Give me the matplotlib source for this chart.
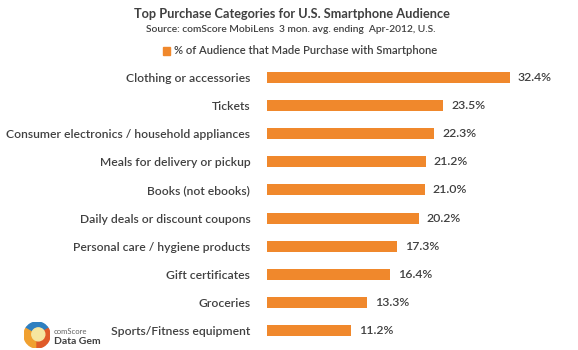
import matplotlib
matplotlib.use("Agg")
import matplotlib.pyplot as plt
from matplotlib.patches import Wedge, Circle

categories = ["Clothing or accessories", "Tickets",
              "Consumer electronics / household appliances",
              "Meals for delivery or pickup", "Books (not ebooks)",
              "Daily deals or discount coupons",
              "Personal care / hygiene products", "Gift certificates",
              "Groceries", "Sports/Fitness equipment"]
values = [32.4, 23.5, 22.3, 21.2, 21.0, 20.2, 17.3, 16.4, 13.3, 11.2]
series_name = "% of Audience that Made Purchase with Smartphone"
title = "Top Purchase Categories for U.S. Smartphone Audience"
subtitle = "Source: comScore MobiLens  3 mon. avg. ending  Apr-2012, U.S."

ORANGE = "#F0882C"
TEXT = "#404040"
FONT = "Lato"

W, H = 578, 350
fig = plt.figure(figsize=(W / 100, H / 100), dpi=100)
fig.patch.set_facecolor("white")

ax_left, ax_right = 267, 567
ax_top, ax_bottom = 62.9, 345.1
ax = fig.add_axes([ax_left / W, 1 - ax_bottom / H,
                   (ax_right - ax_left) / W, (ax_bottom - ax_top) / H])
ypos = list(range(len(categories)))
ax.barh(ypos, values, height=0.39, color=ORANGE)
ax.set_xlim(0, 40)
ax.set_ylim(len(categories) - 0.5, -0.5)
ax.set_yticks(ypos)
ax.set_yticklabels(categories, fontsize=8.7, color=TEXT, family=FONT,
                   fontweight="semibold")
ax.tick_params(axis="y", length=0, pad=12)
ax.set_xticks([])
for s in ax.spines.values():
    s.set_visible(False)
for y, v in zip(ypos, values):
    ax.text(v + 1.05, y, f"{v:.1f}%", va="center", ha="left", fontsize=8.8,
            color=TEXT, family=FONT, fontweight="semibold")

fig.text(292 / W, 1 - 14 / H, title, ha="center", va="center",
         fontsize=9.2, fontweight="bold", color=TEXT, family=FONT)
fig.text(291 / W, 1 - 29 / H, subtitle, ha="center", va="center",
         fontsize=7.4, fontweight="semibold", color=TEXT, family=FONT)
# legend
fig.patches.append(plt.Rectangle((163 / W, 1 - 55 / H), 7 / W, 8 / H,
                                 transform=fig.transFigure, color=ORANGE))
fig.text(174 / W, 1 - 51 / H, series_name, ha="left", va="center",
         fontsize=8.1, fontweight="semibold", color=TEXT, family=FONT)

# logo
lax = fig.add_axes([24 / W, 1 - 348 / H, 26 / W, 26 / H])
lax.set_xlim(-1, 1)
lax.set_ylim(-1, 1)
lax.set_aspect("equal")
lax.axis("off")
for th1, th2, c in [(30, 150, "#2E7FC0"), (150, 270, "#F0A030"),
                    (270, 390, "#E05A28")]:
    lax.add_patch(Wedge((0, 0), 1, th1, th2, color=c))
lax.add_patch(Circle((0.1, 0.05), 0.5, color="#F6E6A0"))
fig.text(54 / W, 1 - 331 / H, "comScore", ha="left", va="center",
         fontsize=5.5, color="#606060", family=FONT)
fig.text(54 / W, 1 - 341 / H, "Data Gem", ha="left", va="center",
         fontsize=7.5, fontweight="bold", color="#404040", family=FONT)

fig.savefig("out.png", dpi=100)
